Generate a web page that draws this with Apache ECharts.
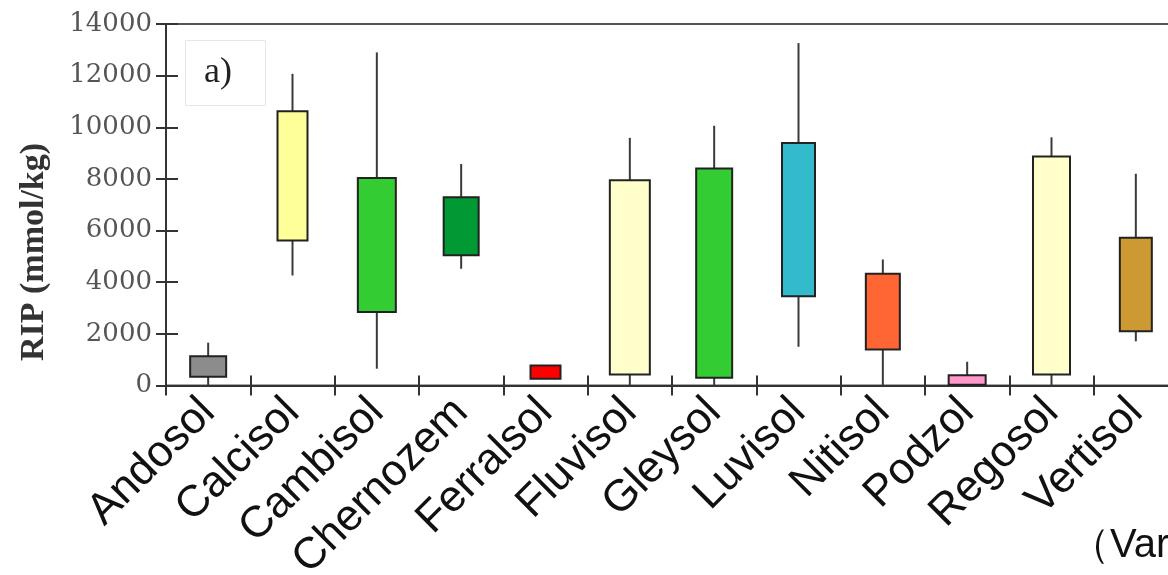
<!DOCTYPE html>
<html>
<head>
<meta charset="utf-8">
<script src="https://cdn.jsdelivr.net/npm/echarts@6/dist/echarts.min.js"></script>
<style>html,body{margin:0;padding:0;background:#fff;}#c{width:1168px;height:575px;}</style>
</head>
<body>
<div id="c"></div>
<script>
// ---- data ----
const categories = ['Andosol','Calcisol','Cambisol','Chernozem','Ferralsol','Fluvisol','Gleysol','Luvisol','Nitisol','Podzol','Regosol','Vertisol'];
const mins = [0, 4260, 650, 4520, 260, 0, 0, 1500, 0, 0, 0, 1710];
const q1s  = [340, 5620, 2850, 5040, 260, 430, 300, 3460, 1390, 30, 430, 2100];
const q3s  = [1130, 10620, 8040, 7290, 770, 7950, 8400, 9390, 4330, 400, 8870, 5720];
const maxs = [1660, 12070, 12900, 8580, 770, 9590, 10060, 13260, 4880, 920, 9610, 8200];
const yTicks = [0, 2000, 4000, 6000, 8000, 10000, 12000, 14000];
const yTitle = 'RIP (mmol/kg)';
const panelLabel = 'a)';
const sourceText = '（Var';

// ---- styles ----
const fills = ['#8c8c8c','#ffff99','#33cc33','#009933','#ff0000','#ffffcc','#33cc33','#33bbcc','#ff6633','#ff99cc','#ffffcc','#cc9933'];
const boxWidths = [36, 30, 38, 35, 30, 40, 36, 33, 34, 37, 37, 32];

const seriesData = categories.map((c, i) => [i, mins[i], q1s[i], q3s[i], maxs[i]]);

const chart = echarts.init(document.getElementById('c'), null, {renderer: 'canvas'});
const axisColor = '#333';
const yMin = yTicks[0], yMax = yTicks[yTicks.length - 1], yInt = yTicks[1] - yTicks[0];
const hiddenLine = {show: true, lineStyle: {color: 'rgba(0,0,0,0)', width: 0}};

chart.setOption({
  animation: false,
  backgroundColor: '#fff',
  grid: {left: 166, top: 24, height: 361.5, width: 1012, outerBoundsMode: 'none', containLabel: false,
         show: true, borderColor: '#555', borderWidth: 2, backgroundColor: 'transparent'},
  xAxis: [{
    type: 'category', data: categories, position: 'bottom', boundaryGap: true,
    axisLine: {show: true, onZero: false, lineStyle: {color: axisColor, width: 2}},
    axisTick: {show: true, inside: false, length: 10, lineStyle: {color: axisColor, width: 2}},
    axisLabel: {show: true, rotate: 45, margin: 20, fontFamily: 'Liberation Sans', fontSize: 44, color: '#111', interval: 0}
  }, {
    type: 'category', data: categories, position: 'bottom', boundaryGap: true, offset: -10,
    axisLine: hiddenLine,
    axisTick: {show: true, inside: false, length: 10, lineStyle: {color: axisColor, width: 2}},
    axisLabel: {show: false}
  }],
  yAxis: [{
    type: 'value', min: yMin, max: yMax, interval: yInt, position: 'left',
    splitLine: {show: false},
    axisLine: {show: true, lineStyle: {color: axisColor, width: 2}},
    axisTick: {show: true, inside: false, length: 10, lineStyle: {color: axisColor, width: 2}},
    axisLabel: {margin: 14, fontFamily: 'DejaVu Serif', fontSize: 26, color: '#555', formatter: v => String(v)}
  }, {
    type: 'value', min: yMin, max: yMax, interval: yInt, position: 'left', offset: -12,
    splitLine: {show: false},
    axisLine: hiddenLine,
    axisTick: {show: true, inside: false, length: 12, lineStyle: {color: axisColor, width: 2}},
    axisLabel: {show: false}
  }],
  graphic: [
    {type: 'rect', left: 183, top: 38, shape: {width: 80, height: 65}, style: {fill: 'none', stroke: '#e6e6e6', lineWidth: 1}},
    {type: 'text', left: 204, top: 55, style: {text: panelLabel, font: '36px "Liberation Serif"', fill: '#222'}},
    {type: 'text', x: 34, y: 252, rotation: Math.PI / 2,
     style: {text: yTitle, font: 'bold 34px "Liberation Serif"', fill: '#333', align: 'center', verticalAlign: 'middle'}},
    {type: 'text', left: 1070, top: 526, style: {text: sourceText, font: '40px "Liberation Sans"', fill: '#111'}}
  ],
  series: [{
    type: 'custom',
    xAxisIndex: 0, yAxisIndex: 0,
    data: seriesData,
    clip: false,
    renderItem: function (params, api) {
      const i = api.value(0);
      const pMin = api.coord([i, api.value(1)]);
      const pQ1 = api.coord([i, api.value(2)]);
      const pQ3 = api.coord([i, api.value(3)]);
      const pMax = api.coord([i, api.value(4)]);
      const x = pMin[0];
      const w = boxWidths[params.dataIndex];
      const lineStyle = {stroke: '#3a3a3a', lineWidth: 2};
      return {
        type: 'group',
        children: [
          {type: 'line', shape: {x1: x, y1: pMax[1], x2: x, y2: pQ3[1]}, style: lineStyle},
          {type: 'line', shape: {x1: x, y1: pQ1[1], x2: x, y2: pMin[1]}, style: lineStyle},
          {type: 'rect', shape: {x: x - w / 2, y: pQ3[1], width: w, height: pQ1[1] - pQ3[1]},
           style: {fill: fills[params.dataIndex], stroke: '#222', lineWidth: 2}}
        ]
      };
    }
  }]
});
</script>
</body>
</html>
